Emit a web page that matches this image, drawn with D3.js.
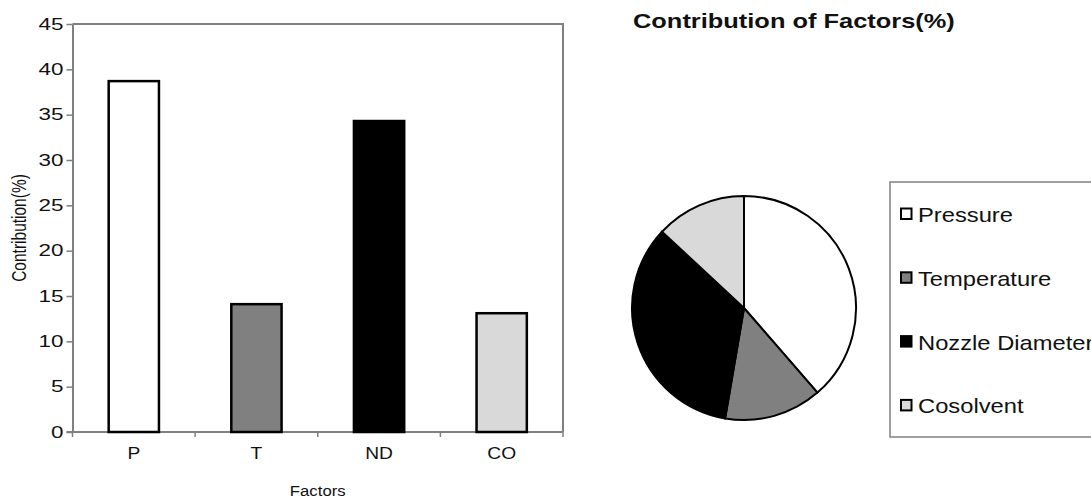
<!DOCTYPE html>
<html>
<head>
<meta charset="utf-8">
<script src="https://cdn.jsdelivr.net/npm/d3@7/dist/d3.min.js"></script>
<style>
  html, body { margin: 0; padding: 0; background: #fff; }
  svg { display: block; font-family: "Liberation Sans", Arial, sans-serif; }
</style>
</head>
<body>
<svg id="chart" width="1091" height="498"></svg>
<script>
// Factor codes on the bar chart and their full names in the pie legend
const categories = ["P", "T", "ND", "CO"];
const factorNames = ["Pressure", "Temperature", "Nozzle Diameter", "Cosolvent"];
// Contribution of each factor (%)
const contribution = [38.7, 14.1, 34.3, 13.1];
const fills = ["#ffffff", "#808080", "#000000", "#d9d9d9"];
const yTicks = [0, 5, 10, 15, 20, 25, 30, 35, 40, 45];

const svg = d3.select("#chart");
const textColor = "#111";

// widen text horizontally by a factor, keeping its anchor
function widen(sel, sx) {
  sel.each(function () {
    const w = this.getComputedTextLength();
    d3.select(this).attr("textLength", w * sx).attr("lengthAdjust", "spacingAndGlyphs");
  });
}

// ---------- Bar chart ----------
const plot = { left: 72.5, right: 563, top: 24, bottom: 432 };

const x = d3.scaleBand()
  .domain(categories)
  .range([plot.left, plot.right])
  .paddingInner(0.59)
  .paddingOuter(0.295);

const y = d3.scaleLinear().domain([0, 45]).range([plot.bottom, plot.top]);

const axisGrey = "#808080";

// frame (top and right edges)
svg.append("path")
  .attr("d", `M${plot.left},${plot.top}H${plot.right}V${plot.bottom}`)
  .attr("fill", "none")
  .attr("stroke", axisGrey)
  .attr("stroke-width", 2);

// y axis
const yAxis = svg.append("g")
  .attr("transform", `translate(${plot.left},0)`)
  .call(d3.axisLeft(y).tickValues(yTicks).tickSize(6).tickPadding(3).tickSizeOuter(0));
yAxis.select(".domain").attr("stroke", axisGrey).attr("stroke-width", 2);
yAxis.selectAll(".tick line").attr("stroke", axisGrey).attr("stroke-width", 1.5);
yAxis.selectAll(".tick text")
  .attr("font-size", 16).attr("fill", textColor).attr("font-family", "Liberation Sans, Arial, sans-serif")
  .call(widen, 1.4);

// x axis with ticks on category boundaries
const boundaries = categories.map(c => x(c) - x.step() * x.paddingInner() / 2).concat([plot.right]);
const xAxisG = svg.append("g").attr("transform", `translate(0,${plot.bottom})`);
xAxisG.append("line")
  .attr("x1", plot.left - 6).attr("x2", plot.right)
  .attr("stroke", axisGrey).attr("stroke-width", 2);
xAxisG.selectAll("line.tk")
  .data(boundaries)
  .join("line")
  .attr("class", "tk")
  .attr("x1", d => d).attr("x2", d => d)
  .attr("y1", 0).attr("y2", 5)
  .attr("stroke", axisGrey).attr("stroke-width", 1.5);
xAxisG.selectAll("text")
  .data(categories)
  .join("text")
  .attr("x", d => x(d) + x.bandwidth() / 2)
  .attr("y", 27)
  .attr("text-anchor", "middle")
  .attr("font-size", 16)
  .attr("fill", textColor)
  .text(d => d)
  .call(widen, 1.2);

// bars
svg.append("g")
  .selectAll("rect")
  .data(contribution)
  .join("rect")
  .attr("x", (d, i) => x(categories[i]))
  .attr("y", d => y(d))
  .attr("width", x.bandwidth())
  .attr("height", d => y(0) - y(d))
  .attr("fill", (d, i) => fills[i])
  .attr("stroke", "#000")
  .attr("stroke-width", 2.5);

// axis titles
svg.append("text")
  .attr("x", (plot.left + plot.right) / 2)
  .attr("y", 496)
  .attr("text-anchor", "middle")
  .attr("font-size", 15.5)
  .attr("fill", textColor)
  .text("Factors")
  .call(widen, 1.08);

svg.append("text")
  .attr("transform", `translate(26,${(plot.top + plot.bottom) / 2}) scale(1.35,1) rotate(-90)`)
  .attr("text-anchor", "middle")
  .attr("font-size", 15.5)
  .attr("fill", textColor)
  .text("Contribution(%)");

// ---------- Pie chart ----------
svg.append("text")
  .attr("x", 633)
  .attr("y", 28)
  .attr("font-size", 21)
  .attr("font-weight", "bold")
  .attr("fill", textColor)
  .text("Contribution of Factors(%)")
  .call(widen, 1.21);

const pie = d3.pie().sort(null).value(d => d);
const arc = d3.arc().innerRadius(0).outerRadius(112);

svg.append("g")
  .attr("transform", "translate(744,308)")
  .selectAll("path")
  .data(pie(contribution))
  .join("path")
  .attr("d", arc)
  .attr("fill", (d, i) => fills[i])
  .attr("stroke", "#000")
  .attr("stroke-width", 2);

// legend
const legend = svg.append("g");
legend.append("rect")
  .attr("x", 890).attr("y", 182)
  .attr("width", 220).attr("height", 255)
  .attr("fill", "#fff")
  .attr("stroke", axisGrey)
  .attr("stroke-width", 1.5);

const items = legend.selectAll("g.item")
  .data(factorNames)
  .join("g")
  .attr("class", "item")
  .attr("transform", (d, i) => `translate(900,${222 + i * 63.8})`);

items.append("rect")
  .attr("x", 1).attr("y", -13.5)
  .attr("width", 10.5).attr("height", 10.5)
  .attr("fill", (d, i) => fills[i])
  .attr("stroke", "#000")
  .attr("stroke-width", 2);

items.append("text")
  .attr("x", 18)
  .attr("y", 0)
  .attr("font-size", 21)
  .attr("fill", textColor)
  .text(d => d)
  .call(widen, 1.13);
</script>
</body>
</html>
